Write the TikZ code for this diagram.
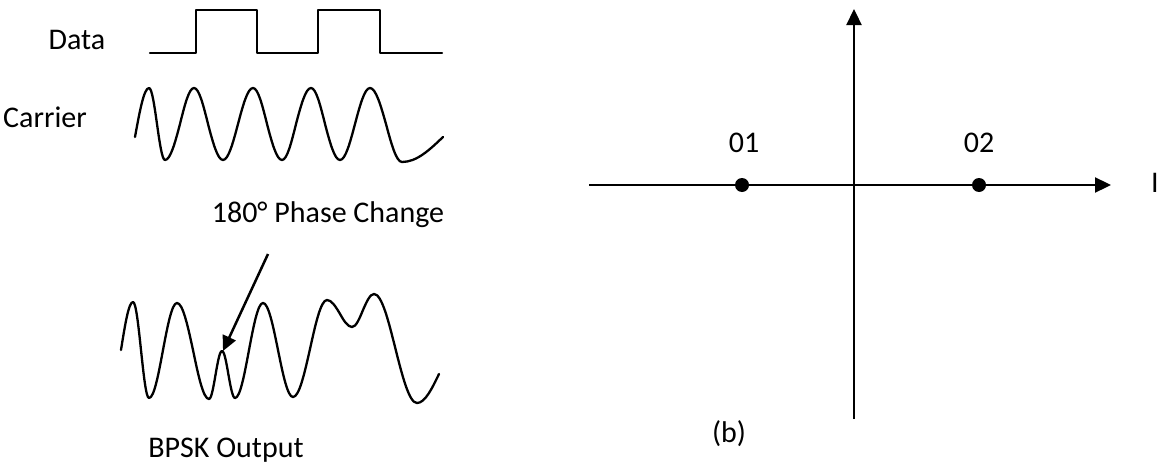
\documentclass[tikz,border=0pt]{standalone}
\usepackage{fontspec}
\setmainfont{Carlito}
\usetikzlibrary{arrows.meta}
\tikzset{
  lbl/.style={anchor=base, inner sep=0pt, font=\fontsize{30}{34}\selectfont},
  wave/.style={line width=2.3pt, line join=round, line cap=round},
  axis/.style={line width=2.3pt, -{Triangle[length=16pt,width=15pt]}},
  pt/.style={circle, fill=black, inner sep=0pt, minimum size=14pt},
  pointer/.style={line width=2.5pt, -{Triangle[length=15pt,width=14pt]}}
}
\begin{document}
\begin{tikzpicture}[x=1pt,y=-1pt]
\useasboundingbox (0,0) rectangle (1160,463);
% labels
\node[lbl] (data) at (77,49) {Data};
\node[lbl] (carrier) at (45,127) {Carrier};
\node[lbl] (phase) at (328,222) {180° Phase Change};
\node[lbl] (bpsk) at (226,457) {BPSK Output};
% data waveform
\draw[wave] (150,53) -- (196,53) -- (196,10) -- (257,10) -- (257,53) -- (318,53) -- (318,10) -- (380,10) -- (380,53) -- (442,53);
% carrier
\draw[wave] (135,137) sin (149,88) cos (157,124) sin (165,160)
  cos (180,124) sin (194,88) cos (208,124) sin (223,160)
  cos (238,124) sin (253,88) cos (267,124) sin (282,160)
  cos (296,124) sin (311,88) cos (325,124) sin (340,160)
  cos (355,124) sin (370,88) cos (386,124) sin (402,162)
  cos (443,137);
% BPSK output
\draw[wave] (121,350) sin (133,302) cos (141,350) sin (149,398)
  cos (163,350) sin (177,303) cos (193,350) sin (209,399)
  cos (215.5,375) sin (222,351) cos (228.5,375) sin (235,398)
  cos (249,350) sin (263,303) cos (278,350) sin (293,397)
  cos (310,349) sin (327,300) cos (339.5,313) sin (352,327)
  cos (363,310) sin (374,294) cos (395.5,349) sin (417,403)
  cos (439,374);
% pointer arrow
\coordinate (pstart) at (268,254);
\coordinate (ptip) at (223,351);
\draw[pointer] (pstart) -- (ptip);
% constellation
\coordinate (xl) at (589,185);
\coordinate (xr) at (1111,185);
\coordinate (yb) at (854,419);
\coordinate (yt) at (854,9);
\draw[axis] (xl) -- (xr);
\draw[axis] (yb) -- (yt);
\node[pt] (p1) at (742,185) {};
\node[pt] (p2) at (979,185) {};
\node[lbl] (l1) at (744,152) {01};
\node[lbl] (l2) at (979,152) {02};
\node[lbl] (li) at (1155,192) {I};
\node[lbl] (lb) at (729,442) {(b)};
\end{tikzpicture}
\end{document}
